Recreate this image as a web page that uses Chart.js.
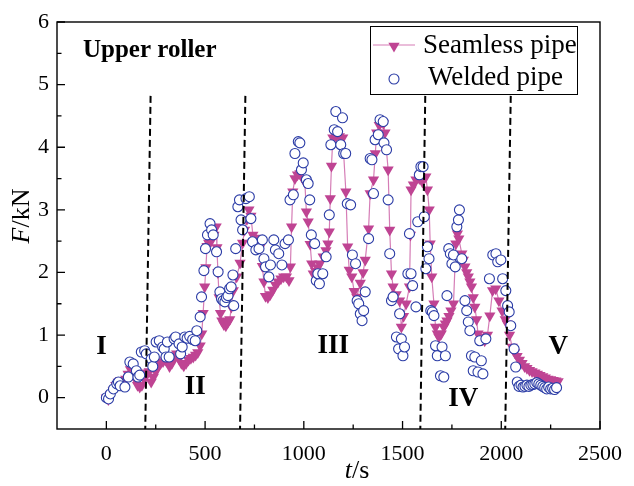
<!DOCTYPE html>
<html>
<head>
<meta charset="utf-8">
<script src="https://cdn.jsdelivr.net/npm/chart.js@4.4.0/dist/chart.umd.min.js"></script>
<style>
body{margin:0;background:#fff;}
#wrap{width:634px;height:486px;}
</style>
</head>
<body>
<div id="wrap"><canvas id="chart"></canvas></div>
<script>
// seamless pipe, time (s) and force (kN)
const seamlessT = [
  0,10,22,35,48,60,72,85,98,110,
  122,135,147,158,169,180,192,205,217,227,
  238,250,262,275,287,299,309,320,332,344,
  356,368,380,392,404,416,428,440,452,463,
  475,483,490,498,504,510,518,530,545,556,
  560,565,571,578,585,595,605,615,625,633,
  643,660,677,690,700,712,722,732,742,752,
  765,778,790,798,806,818,830,843,857,870,
  884,898,912,925,932,938,944,955,968,980,
  995,1005,1013,1022,1032,1040,1048,1060,1070,1081,
  1098,1112,1122,1129,1134,1140,1147,1163,1180,1197,
  1213,1222,1230,1243,1255,1268,1286,1300,1311,1328,
  1336,1353,1362,1369,1382,1394,1403,1411,1427,1435,
  1444,1452,1468,1485,1494,1505,1518,1535,1540,1543,
  1555,1568,1585,1600,1610,1618,1626,1635,1640,1648,
  1659,1667,1676,1684,1696,1709,1717,1725,1735,1745,
  1758,1770,1778,1785,1800,1808,1816,1825,1833,1841,
  1849,1858,1866,1875,1882,1895,1905,1916,1930,1942,
  1956,1972,1988,2004,2020,2030,2042,2055,2068,2080,
  2092,2105,2118,2130,2143,2156,2170,2183,2196,2210,
  2223,2236,2250,2263,2276,2288
];
const seamlessF = [
  0,-0.03,0.05,0.12,0.2,0.25,0.28,0.22,0.3,0.38,
  0.45,0.42,0.3,0.2,0.17,0.2,0.3,0.4,0.42,0.25,
  0.33,0.42,0.5,0.55,0.58,0.6,0.57,0.5,0.55,0.65,
  0.7,0.62,0.55,0.51,0.55,0.6,0.63,0.65,0.68,0.72,
  0.83,1.02,1.35,1.77,2.08,2.42,2.47,2.5,2.6,2.73,
  2.4,2.0,1.6,1.35,1.23,1.17,1.15,1.2,1.25,1.45,
  1.71,1.93,2.15,2.47,2.68,2.85,3.0,2.9,2.6,2.55,
  2.52,2.4,2.1,1.85,1.62,1.6,1.65,1.72,1.8,1.85,
  1.9,1.93,1.93,1.87,2.09,2.73,3.29,3.5,3.56,3.58,
  3.5,3.45,2.97,2.81,2.45,2.14,1.98,2.02,2.08,2.14,
  2.25,2.35,2.46,2.65,3.18,3.7,4.15,4.17,4.17,4.15,
  3.29,2.41,2.04,1.93,1.7,1.61,1.83,2.0,2.2,2.7,
  3.26,3.48,3.9,4.23,4.35,4.41,4.38,4.23,3.64,2.68,
  1.98,1.77,1.65,1.55,1.13,1.3,1.5,1.77,2.6,3.32,
  3.4,3.48,3.5,3.45,3.52,3.53,3.32,3.0,2.46,1.93,
  1.5,1.13,1.02,0.97,1.02,1.13,1.18,1.23,1.3,1.39,
  1.5,2.46,2.62,2.54,2.3,2.2,2.09,2.0,1.93,1.85,
  1.77,1.6,1.45,1.25,1.02,0.97,0.93,0.91,1.0,1.31,
  1.71,1.74,1.55,1.39,1.25,1.18,1.0,0.81,0.72,0.66,
  0.6,0.55,0.5,0.47,0.44,0.42,0.4,0.38,0.36,0.34,
  0.32,0.3,0.29,0.28,0.27,0.26
];

// welded pipe
const weldedT = [
  0,11,20,36,53,61,70,94,111,119,
  136,152,160,169,177,194,202,227,235,243,
  252,268,285,293,302,309,318,343,351,368,
  376,384,397,409,422,437,450,458,475,482,
  494,502,512,525,533,541,558,566,575,583,
  591,600,608,616,624,632,641,645,655,666,
  674,682,690,707,724,732,740,757,773,790,
  798,806,823,831,848,856,873,889,905,922,
  930,947,955,972,980,988,997,1013,1022,1030,
  1038,1055,1063,1071,1079,1096,1113,1129,1137,1154,
  1162,1171,1187,1196,1202,1212,1220,1237,1246,1262,
  1270,1278,1286,1295,1303,1311,1328,1336,1345,1353,
  1361,1377,1386,1402,1406,1419,1427,1435,1444,1452,
  1469,1480,1485,1494,1502,1510,1527,1535,1543,1551,
  1568,1577,1585,1593,1604,1610,1618,1626,1634,1643,
  1651,1659,1667,1676,1692,1700,1709,1717,1725,1734,
  1742,1750,1758,1767,1775,1783,1788,1800,1816,1825,
  1833,1841,1849,1858,1866,1882,1891,1899,1907,1922,
  1940,1957,1973,1982,1998,2007,2023,2032,2040,2048,
  2065,2073,2081,2090,2100,2110,2120,2130,2140,2150,
  2160,2170,2180,2190,2200,2210,2220,2230,2240,2250,
  2260,2270,2280
];
const weldedF = [
  0,-0.02,0.06,0.14,0.22,0.25,0.19,0.17,0.33,0.57,
  0.54,0.43,0.33,0.36,0.73,0.75,0.7,0.62,0.5,0.65,
  0.89,0.91,0.81,0.78,0.65,0.89,0.65,0.94,0.97,0.86,
  0.7,0.81,0.97,0.95,0.98,0.93,0.91,1.07,1.29,1.61,
  2.03,2.38,2.6,2.78,2.68,2.6,2.33,2.01,1.69,1.58,
  1.55,1.53,1.6,1.63,1.74,1.77,1.96,1.47,2.38,3.05,
  3.16,2.84,2.68,3.18,3.21,2.86,2.49,2.36,2.38,2.52,
  2.22,2.09,1.93,2.12,2.52,2.36,2.3,2.12,2.46,2.52,
  3.16,3.24,3.9,4.09,4.07,3.64,3.75,3.48,3.42,3.16,
  2.6,2.46,1.87,1.98,1.82,1.98,2.25,2.92,4.04,4.28,
  4.57,4.25,4.04,4.47,3.9,3.9,3.1,3.08,2.28,2.14,
  1.55,1.5,1.34,1.23,1.39,1.69,2.54,3.82,3.8,3.26,
  4.12,4.2,4.44,4.41,4.07,3.96,3.16,2.3,1.55,1.61,
  0.97,0.78,1.34,0.94,0.67,0.81,1.98,2.62,1.98,1.79,
  1.45,2.81,3.56,3.69,3.69,2.89,2.06,2.41,2.22,1.39,
  1.37,1.31,0.83,0.67,0.35,0.81,0.33,0.67,1.63,2.38,
  2.3,2.14,2.28,2.09,2.73,2.84,3.0,2.22,1.55,1.39,
  1.21,1.07,0.67,0.43,0.65,0.41,0.91,0.59,0.38,0.94,
  1.9,2.28,2.3,2.17,2.2,1.9,1.71,1.47,1.37,1.15,
  0.78,0.49,0.25,0.18,0.2,0.17,0.18,0.2,0.18,0.2,
  0.21,0.22,0.24,0.22,0.2,0.18,0.16,0.14,0.17,0.14,
  0.15,0.13,0.16
];

// stage boundaries (slightly slanted dashed lines)
const dividerTopT = [224, 704, 1615, 2048];
const dividerBottomT = [197, 677, 1590, 2020];
const dividerTopF = 4.82;

const stageLabels = ['I', 'II', 'III', 'IV', 'V'];
const stageT = [-25, 450, 1149, 1808, 2288];
const stageF = [0.81, 0.17, 0.83, -0.02, 0.81];

const xTicks = [0, 500, 1000, 1500, 2000, 2500];
const yTicks = [0, 1, 2, 3, 4, 5, 6];

const PINK = '#bf4493';
const PINK_LINE = '#d57db6';
const BLUE = '#2b3ca6';
const SERIF = "'Liberation Serif','Times New Roman',serif";

Chart.defaults.font.family = SERIF;
Chart.defaults.color = '#000';

const pairs = (xs, ys) => xs.map((x, i) => ({x: x, y: ys[i]}));

const datasets = [];
dividerTopT.forEach((t, i) => {
  datasets.push({
    label: 'divider',
    data: [{x: t, y: dividerTopF}, {x: dividerBottomT[i], y: -0.5}],
    showLine: true,
    borderColor: '#000',
    borderWidth: 2,
    borderDash: [7, 4],
    pointRadius: 0,
    order: 0
  });
});
datasets.push({
  label: 'Welded pipe',
  data: pairs(weldedT, weldedF),
  showLine: false,
  pointStyle: 'circle',
  pointRadius: 5,
  pointBorderWidth: 1.1,
  pointBorderColor: BLUE,
  pointBackgroundColor: '#fff',
  order: 1
});
datasets.push({
  label: 'Seamless pipe',
  data: pairs(seamlessT, seamlessF),
  showLine: true,
  borderColor: PINK_LINE,
  borderWidth: 1.2,
  pointStyle: 'triangle',
  rotation: 180,
  pointRadius: 6.5,
  pointBorderWidth: 0,
  pointBackgroundColor: PINK,
  pointBorderColor: PINK,
  order: 2
});

function drawAt(ctx, parts, x, y, align) {
  // parts: [[text, font], ...] drawn side by side
  let w = 0;
  parts.forEach(p => { ctx.font = p[1]; w += ctx.measureText(p[0]).width; });
  let cx = align === 'center' ? x - w / 2 : x;
  parts.forEach(p => {
    ctx.font = p[1];
    ctx.fillText(p[0], cx, y);
    cx += ctx.measureText(p[0]).width;
  });
}

const decor = {
  id: 'decor',
  afterDatasetsDraw(chart) {
    const ctx = chart.ctx;
    const a = chart.chartArea;
    const xs = chart.scales.x, ys = chart.scales.y;
    ctx.save();
    ctx.strokeStyle = '#000';
    ctx.fillStyle = '#000';

    // inward ticks
    ctx.lineWidth = 1.3;
    ctx.beginPath();
    xTicks.forEach((v, i) => {
      const px = xs.getPixelForValue(v);
      ctx.moveTo(px, a.bottom); ctx.lineTo(px, a.bottom - 8);
      const m = v - 250;
      if (m > xs.min) {
        const pm = xs.getPixelForValue(m);
        ctx.moveTo(pm, a.bottom); ctx.lineTo(pm, a.bottom - 4.5);
      }
    });
    yTicks.forEach(v => {
      const py = ys.getPixelForValue(v);
      ctx.moveTo(a.left, py); ctx.lineTo(a.left + 8, py);
      const m = v - 0.5;
      if (m > ys.min) {
        const pm = ys.getPixelForValue(m);
        ctx.moveTo(a.left, pm); ctx.lineTo(a.left + 4.5, pm);
      }
    });
    ctx.stroke();

    // frame
    ctx.lineWidth = 1.4;
    ctx.strokeRect(a.left, a.top, a.right - a.left, a.bottom - a.top);

    // stage labels
    ctx.textBaseline = 'middle';
    ctx.textAlign = 'center';
    ctx.font = 'bold 27px ' + SERIF;
    stageLabels.forEach((s, i) => {
      ctx.fillText(s, xs.getPixelForValue(stageT[i]), ys.getPixelForValue(stageF[i]));
    });

    ctx.textAlign = 'left';
    ctx.font = 'bold 25px ' + SERIF;
    ctx.fillText('Upper roller', 83, 51);

    // axis titles
    drawAt(ctx, [['t', 'italic 26px ' + SERIF], ['/s', '26px ' + SERIF]], 357, 471, 'center');
    ctx.save();
    ctx.translate(22, 216);
    ctx.rotate(-Math.PI / 2);
    drawAt(ctx, [['F', 'italic 26px ' + SERIF], ['/kN', '26px ' + SERIF]], 0, 0, 'center');
    ctx.restore();

    // legend
    ctx.lineWidth = 1;
    ctx.strokeRect(370.5, 26.5, 207, 68);
    ctx.strokeStyle = PINK_LINE;
    ctx.lineWidth = 1.2;
    ctx.beginPath();
    ctx.moveTo(373, 45); ctx.lineTo(415, 45);
    ctx.stroke();
    ctx.fillStyle = PINK;
    Chart.helpers.drawPoint(ctx, {pointStyle: 'triangle', rotation: 180, radius: 6.5, borderWidth: 0}, 394, 46);
    ctx.fillStyle = '#fff';
    ctx.strokeStyle = BLUE;
    ctx.lineWidth = 1.1;
    Chart.helpers.drawPoint(ctx, {pointStyle: 'circle', radius: 5, borderWidth: 1.1}, 394, 79);
    ctx.fillStyle = '#000';
    ctx.font = '27px ' + SERIF;
    ctx.fillText('Seamless pipe', 423, 46);
    ctx.fillText('Welded pipe', 428, 78);
    ctx.restore();
  }
};

new Chart(document.getElementById('chart'), {
  type: 'scatter',
  data: {datasets: datasets},
  options: {
    responsive: true,
    maintainAspectRatio: false,
    animation: false,
    layout: {padding: {top: 22, right: 29, left: 0, bottom: 0}},
    plugins: {legend: {display: false}, tooltip: {enabled: false}},
    scales: {
      x: {
        type: 'linear',
        min: -250,
        max: 2500,
        grid: {display: false, drawTicks: false, tickLength: 0},
        border: {display: false},
        ticks: {font: {size: 22}, padding: 12, maxRotation: 0, callback: v => String(v)},
        afterBuildTicks: s => { s.ticks = xTicks.map(v => ({value: v})); },
        afterFit: s => { s.height = 57; }
      },
      y: {
        type: 'linear',
        min: -0.5,
        max: 6,
        grid: {display: false, drawTicks: false, tickLength: 0},
        border: {display: false},
        ticks: {font: {size: 22}, padding: 8, callback: v => String(v)},
        afterBuildTicks: s => { s.ticks = yTicks.map(v => ({value: v})); },
        afterFit: s => { s.width = 57; }
      }
    }
  },
  plugins: [decor]
});
</script>
</body>
</html>
